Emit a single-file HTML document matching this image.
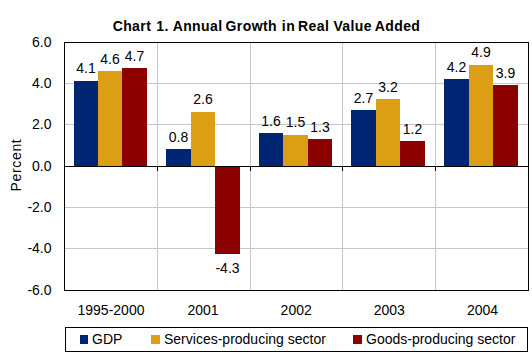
<!DOCTYPE html>
<html><head><meta charset="utf-8"><style>
html,body{margin:0;padding:0;background:#fff;}
svg{display:block;font-family:"Liberation Sans",sans-serif;}
</style></head><body>
<svg width="532" height="358" viewBox="0 0 532 358" shape-rendering="crispEdges">
<rect x="0" y="0" width="532" height="358" fill="#fff"/>
<text y="31" text-anchor="middle" font-weight="bold" font-size="14" letter-spacing="0.41"><tspan x="131.95">Chart</tspan><tspan x="162.5">1.</tspan><tspan x="197.6">Annual</tspan><tspan x="251.29999999999998">Growth</tspan><tspan x="288.5">in</tspan><tspan x="313.65">Real</tspan><tspan x="352.7">Value</tspan><tspan x="397.5">Added</tspan></text>
<rect x="65" y="83" width="463" height="1" fill="#C8C8C8"/>
<rect x="65" y="124" width="463" height="1" fill="#C8C8C8"/>
<rect x="65" y="207" width="463" height="1" fill="#C8C8C8"/>
<rect x="65" y="248" width="463" height="1" fill="#C8C8C8"/>
<rect x="157" y="43" width="1" height="247" fill="#C8C8C8"/>
<rect x="250" y="43" width="1" height="247" fill="#C8C8C8"/>
<rect x="342" y="43" width="1" height="247" fill="#C8C8C8"/>
<rect x="435" y="43" width="1" height="247" fill="#C8C8C8"/>
<rect x="74" y="81" width="24" height="85" fill="#002673"/>
<text x="86.0" y="73" text-anchor="middle" font-size="14">4.1</text>
<rect x="98" y="71" width="24" height="95" fill="#DC9E14"/>
<text x="110.0" y="64" text-anchor="middle" font-size="14">4.6</text>
<rect x="122" y="68" width="25" height="98" fill="#8C0000"/>
<text x="134.5" y="61" text-anchor="middle" font-size="14">4.7</text>
<rect x="166" y="149" width="25" height="17" fill="#002673"/>
<text x="178.5" y="142" text-anchor="middle" font-size="14">0.8</text>
<rect x="191" y="112" width="24" height="54" fill="#DC9E14"/>
<text x="203.0" y="104" text-anchor="middle" font-size="14">2.6</text>
<rect x="215" y="167" width="25" height="87" fill="#8C0000"/>
<text x="227.5" y="273" text-anchor="middle" font-size="14">-4.3</text>
<rect x="259" y="133" width="24" height="33" fill="#002673"/>
<text x="271.0" y="126" text-anchor="middle" font-size="14">1.6</text>
<rect x="283" y="135" width="25" height="31" fill="#DC9E14"/>
<text x="295.5" y="127" text-anchor="middle" font-size="14">1.5</text>
<rect x="308" y="139" width="24" height="27" fill="#8C0000"/>
<text x="320.0" y="132" text-anchor="middle" font-size="14">1.3</text>
<rect x="351" y="110" width="25" height="56" fill="#002673"/>
<text x="363.5" y="103" text-anchor="middle" font-size="14">2.7</text>
<rect x="376" y="99" width="24" height="67" fill="#DC9E14"/>
<text x="388.0" y="92" text-anchor="middle" font-size="14">3.2</text>
<rect x="400" y="141" width="25" height="25" fill="#8C0000"/>
<text x="412.5" y="134" text-anchor="middle" font-size="14">1.2</text>
<rect x="444" y="79" width="25" height="87" fill="#002673"/>
<text x="456.5" y="72" text-anchor="middle" font-size="14">4.2</text>
<rect x="469" y="65" width="24" height="101" fill="#DC9E14"/>
<text x="481.0" y="57" text-anchor="middle" font-size="14">4.9</text>
<rect x="493" y="85" width="25" height="81" fill="#8C0000"/>
<text x="505.5" y="78" text-anchor="middle" font-size="14">3.9</text>
<rect x="64" y="166" width="465" height="1" fill="#000"/>
<rect x="157" y="167" width="1" height="4" fill="#000"/>
<rect x="250" y="167" width="1" height="4" fill="#000"/>
<rect x="342" y="167" width="1" height="4" fill="#000"/>
<rect x="435" y="167" width="1" height="4" fill="#000"/>
<rect x="64.5" y="42.5" width="464" height="248" fill="none" stroke="#000" stroke-width="1"/>
<text x="51.5" y="47" text-anchor="end" font-size="14">6.0</text>
<text x="51.5" y="88" text-anchor="end" font-size="14">4.0</text>
<text x="51.5" y="129" text-anchor="end" font-size="14">2.0</text>
<text x="51.5" y="171" text-anchor="end" font-size="14">0.0</text>
<text x="51.5" y="212" text-anchor="end" font-size="14">-2.0</text>
<text x="51.5" y="253" text-anchor="end" font-size="14">-4.0</text>
<text x="51.5" y="295" text-anchor="end" font-size="14">-6.0</text>
<text x="21" y="165" text-anchor="middle" font-size="14" letter-spacing="0.65" transform="rotate(-90 21 165)">Percent</text>
<text x="111.0" y="315" text-anchor="middle" font-size="14">1995-2000</text>
<text x="203.0" y="315" text-anchor="middle" font-size="14">2001</text>
<text x="296.2" y="315" text-anchor="middle" font-size="14">2002</text>
<text x="389.3" y="315" text-anchor="middle" font-size="14">2003</text>
<text x="482.5" y="315" text-anchor="middle" font-size="14">2004</text>
<rect x="65.5" y="327.5" width="462" height="24" fill="none" stroke="#000" stroke-width="1"/>
<rect x="80" y="335" width="8" height="9" fill="#002673"/>
<text x="92" y="344" font-size="14">GDP</text>
<rect x="151" y="335" width="9" height="9" fill="#DC9E14"/>
<text x="164" y="344" font-size="14">Services-producing sector</text>
<rect x="353" y="335" width="9" height="9" fill="#8C0000"/>
<text x="366" y="344" font-size="14">Goods-producing sector</text>
</svg>
</body></html>
